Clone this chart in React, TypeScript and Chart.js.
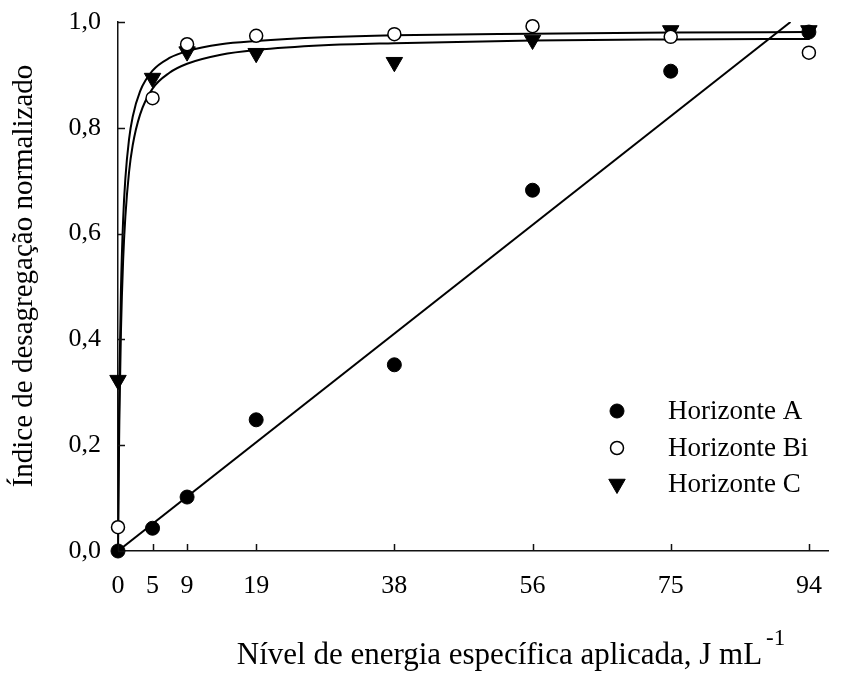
import React, { useEffect, useRef } from "react";
import { Chart, registerables } from "chart.js";

Chart.register(...registerables);

// Applied specific energy levels (J mL-1) and their printed tick labels
const energyLevels = [0, 4.7, 9.4, 18.8, 37.6, 56.4, 75.2, 94];
const energyTickLabels = ["0", "5", "9", "19", "38", "56", "75", "94"];
const yTickValues = [0, 0.2, 0.4, 0.6, 0.8, 1.0];

// Normalized disaggregation index per soil horizon
const horizonA = [0, 0.043, 0.102, 0.248, 0.352, 0.682, 0.907, 0.981];
const horizonBi = [0.045, 0.856, 0.958, 0.974, 0.977, 0.992, 0.972, 0.942];
const horizonC = [0.323, 0.894, 0.944, 0.941, 0.924, 0.966, 0.984, 0.984];

// Fitted trend for horizon A (straight line)
const fitAX = [0, 91.5];
const fitAY = [0, 1.0];

// Fitted saturation curves for horizons Bi and C
const fitCurveX = [0, 0.05, 0.1, 0.2, 0.4, 0.7, 1, 1.5, 2, 3, 4.7, 7, 9.4, 14, 18.8, 28, 37.6, 56.4, 75.2, 94];
const fitBiY = [0, 0.083, 0.152, 0.263, 0.414, 0.55, 0.632, 0.716, 0.767, 0.825, 0.874, 0.904, 0.921, 0.938, 0.947, 0.956, 0.96, 0.965, 0.967, 0.968];
const fitCY = [0, 0.109, 0.197, 0.328, 0.493, 0.627, 0.704, 0.778, 0.821, 0.869, 0.908, 0.932, 0.945, 0.958, 0.964, 0.971, 0.975, 0.978, 0.98, 0.981];

const legendNames = ["Horizonte A", "Horizonte Bi", "Horizonte C"];
const yTitle = "Índice de desagregação normalizado";
const xTitle = "Nível de energia específica aplicada, J mL";
const xTitleSup = "-1";

const FONT = "'Liberation Serif', 'Times New Roman', serif";
const INK = "#111";

const toPoints = (xs: number[], ys: number[]) => xs.map((x, i) => ({ x, y: ys[i] }));

const markerStyles = [
  { pointStyle: "circle", radius: 7, bg: "#000", border: "#000", bw: 1, rotation: 0 },
  { pointStyle: "circle", radius: 6.5, bg: "#fff", border: "#000", bw: 1.5, rotation: 0 },
  { pointStyle: "triangle", radius: 9.5, bg: "#000", border: "#000", bw: 1, rotation: 180 },
];

function drawMarker(ctx: CanvasRenderingContext2D, m: any, x: number, y: number) {
  ctx.beginPath();
  if (m.pointStyle === "circle") {
    ctx.arc(x, y, m.radius, 0, Math.PI * 2);
  } else {
    const r = m.radius;
    for (let k = 0; k < 3; k++) {
      const a = Math.PI / 2 + (k * 2 * Math.PI) / 3;
      const px = x + Math.cos(a) * r;
      const py = y + Math.sin(a) * r;
      if (k === 0) ctx.moveTo(px, py);
      else ctx.lineTo(px, py);
    }
    ctx.closePath();
  }
  ctx.fill();
  ctx.stroke();
}

const decorPlugin = {
  id: "decor",
  afterDraw(chart: any) {
    const { ctx, scales } = chart;
    const xs = scales.x;
    const ys = scales.y;
    const x0 = xs.getPixelForValue(0);
    const yBottom = ys.getPixelForValue(0);
    ctx.save();
    ctx.strokeStyle = INK;
    ctx.lineWidth = 1.5;
    // inward tick marks
    ctx.beginPath();
    yTickValues.forEach((v) => {
      const py = Math.round(ys.getPixelForValue(v)) + 0.5;
      ctx.moveTo(x0, py);
      ctx.lineTo(x0 + 7, py);
    });
    energyLevels.forEach((v) => {
      const px = Math.round(xs.getPixelForValue(v)) + 0.5;
      ctx.moveTo(px, yBottom);
      ctx.lineTo(px, yBottom - 7);
    });
    ctx.stroke();

    // legend
    ctx.font = `27px ${FONT}`;
    ctx.textBaseline = "middle";
    ctx.textAlign = "left";
    const rows = [411, 448, 484];
    legendNames.forEach((name, i) => {
      const m = markerStyles[i];
      ctx.save();
      ctx.fillStyle = m.bg;
      ctx.strokeStyle = m.border;
      ctx.lineWidth = m.bw;
      drawMarker(ctx, m, 617, rows[i]);
      ctx.restore();
      ctx.fillStyle = "#000";
      ctx.fillText(name, 668, rows[i] + 1);
    });

    // y title
    ctx.save();
    ctx.translate(24, 276);
    ctx.rotate(-Math.PI / 2);
    ctx.textAlign = "center";
    ctx.textBaseline = "middle";
    ctx.font = `29px ${FONT}`;
    ctx.fillStyle = "#000";
    ctx.fillText(yTitle, 0, 0);
    ctx.restore();

    // x title with superscript unit exponent
    ctx.fillStyle = "#000";
    ctx.font = `31px ${FONT}`;
    ctx.textAlign = "left";
    ctx.textBaseline = "alphabetic";
    const w = ctx.measureText(xTitle).width;
    ctx.font = `23px ${FONT}`;
    const ws = ctx.measureText(xTitleSup).width;
    const startX = 511 - (w + 4 + ws) / 2;
    ctx.font = `31px ${FONT}`;
    ctx.fillText(xTitle, startX, 664);
    ctx.font = `23px ${FONT}`;
    ctx.fillText(xTitleSup, startX + w + 4, 645);
    ctx.restore();
  },
};

export default function App() {
  const canvasRef = useRef<HTMLCanvasElement | null>(null);

  useEffect(() => {
    if (!canvasRef.current) return;
    const seriesValues = [horizonA, horizonBi, horizonC];
    const scatterSets = seriesValues.map((vals, i) => {
      const m = markerStyles[i];
      return {
        type: "scatter" as const,
        label: legendNames[i],
        data: toPoints(energyLevels, vals),
        pointStyle: m.pointStyle,
        pointRadius: m.radius,
        pointRotation: m.rotation,
        backgroundColor: m.bg,
        borderColor: m.border,
        borderWidth: m.bw,
        showLine: false,
        clip: false,
        order: 0,
      };
    });
    const lineStyle = {
      type: "line" as const,
      borderColor: "#000",
      borderWidth: 2,
      pointRadius: 0,
      fill: false,
      cubicInterpolationMode: "monotone" as const,
      order: 1,
    };
    const chart = new Chart(canvasRef.current, {
      type: "scatter",
      data: {
        datasets: [
          ...scatterSets,
          { ...lineStyle, label: "fitA", data: toPoints(fitAX, fitAY) },
          { ...lineStyle, label: "fitBi", data: toPoints(fitCurveX, fitBiY) },
          { ...lineStyle, label: "fitC", data: toPoints(fitCurveX, fitCY) },
        ] as any,
      },
      options: {
        responsive: false,
        animation: false,
        devicePixelRatio: 1,
        layout: { padding: { top: 22, right: 17, left: 0, bottom: 0 } },
        plugins: { legend: { display: false }, tooltip: { enabled: false } },
        scales: {
          x: {
            type: "linear",
            min: 0,
            max: 96.6,
            afterFit: (s: any) => {
              s.height = 123;
              s.paddingLeft = 0;
              s.paddingRight = 0;
            },
            afterBuildTicks: (s: any) => {
              s.ticks = energyLevels.map((v) => ({ value: v }));
            },
            ticks: {
              autoSkip: false,
              maxRotation: 0,
              padding: 20,
              color: "#000",
              font: { family: FONT, size: 26 },
              callback: (v: any) => {
                const idx = energyLevels.indexOf(Number(v));
                return idx >= 0 ? energyTickLabels[idx] : "";
              },
            },
            grid: { display: false, drawTicks: false },
            border: { display: true, color: INK, width: 1.5 },
          },
          y: {
            type: "linear",
            min: 0,
            max: 1,
            afterFit: (s: any) => {
              s.width = 118;
              s.paddingTop = 0;
              s.paddingBottom = 0;
            },
            afterBuildTicks: (s: any) => {
              s.ticks = yTickValues.map((v) => ({ value: v }));
            },
            ticks: {
              padding: 17,
              color: "#000",
              font: { family: FONT, size: 26 },
              callback: (v: any) => Number(v).toFixed(1).replace(".", ","),
            },
            grid: { display: false, drawTicks: false },
            border: { display: true, color: INK, width: 1.5 },
          },
        },
      },
      plugins: [decorPlugin],
    });
    return () => chart.destroy();
  }, []);

  return (
    <div style={{ position: "absolute", left: 0, top: 0, width: 845, height: 674, background: "#fff" }}>
      <canvas ref={canvasRef} width={845} height={674} />
    </div>
  );
}
